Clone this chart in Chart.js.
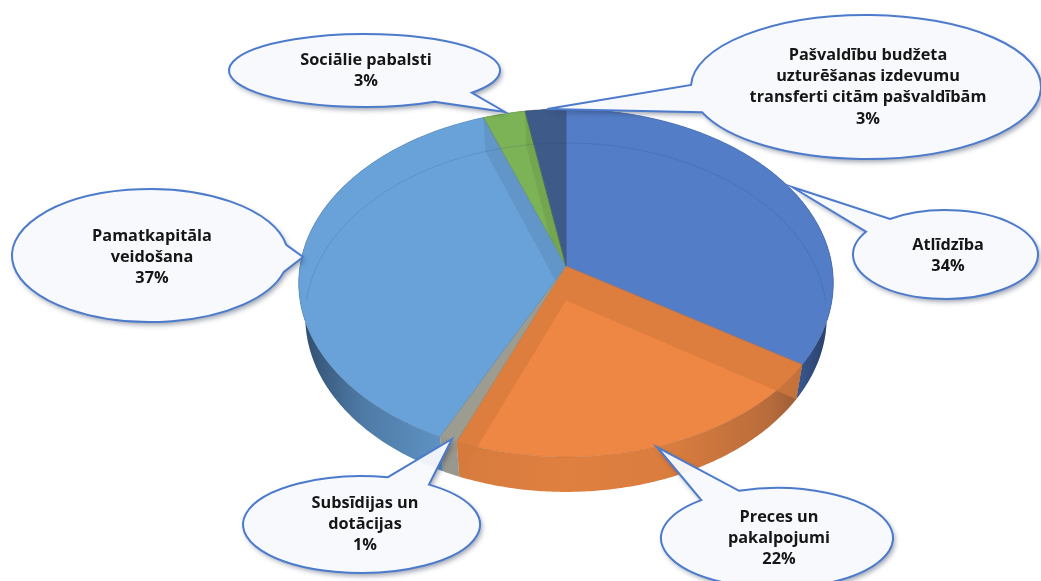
<!DOCTYPE html>
<html><head><meta charset="utf-8">
<style>html,body{margin:0;padding:0;background:#fff;overflow:hidden}canvas{display:block;filter:blur(.45px)}</style>
<script src="https://cdn.jsdelivr.net/npm/chart.js@4/dist/chart.umd.min.js"></script>
</head><body>
<canvas id="c" width="1041" height="581"></canvas>
<script>
const categories = ['Atlīdzība','Preces un pakalpojumi','Subsīdijas un dotācijas','Pamatkapitāla veidošana','Sociālie pabalsti','Pašvaldību budžeta uzturēšanas izdevumu transferti citām pašvaldībām'];
const values = [34.1, 22, 1, 37.4, 2.8, 2.7];
const percentLabels = ['34%','22%','1%','37%','3%','3%'];
const categoryLines = [['Atlīdzība'],['Preces un','pakalpojumi'],['Subsīdijas un','dotācijas'],['Pamatkapitāla','veidošana'],['Sociālie pabalsti'],['Pašvaldību budžeta','uzturēšanas izdevumu','transferti citām pašvaldībām']];
const sliceColors = ['#537dc7','#ee8743','#a9a89c','#69a2d8','#7cb356','#3e5a88'];

// callout balloons: ellipse centre/radii, two tail base points, tail tip, text anchor
const callouts = [
 {cx:945.5,cy:254.5,rx:92.5,ry:44.5,a:[890,219],b:[867,232],tip:[792,187],tx:948,ty:245},
 {cx:777,cy:538,rx:116,ry:50,a:[740,492],b:[703,501],tip:[657,447],tx:779,ty:517},
 {cx:361.5,cy:524.5,rx:118.5,ry:48.5,a:[388,477],b:[430,484],tip:[452,439],tx:365,ty:503},
 {cx:150,cy:255.5,rx:138,ry:66.5,a:[285,245],b:[285,272],tip:[303,257],tx:152,ty:236},
 {cx:364.5,cy:70.5,rx:135.5,ry:36.5,a:[435,102],b:[473,93],tip:[505,112],tx:366,ty:60},
 {cx:866,cy:87,rx:175,ry:72,a:[692,85],b:[703,112],tip:[547,109],tx:868,ty:55}
];
const LINE_H = 21.4;
const PERSP = -0.0977, SQUASH = 0.6477, BX = 0.975, BY = 1.003, DEPTH = 34.4;

function project(el, angle){
  const x = Math.cos(angle), y = Math.sin(angle), d = 1 + PERSP*y;
  return [el.x + el.outerRadius*x/d, el.y + el.outerRadius*SQUASH*y/d];
}
function lower(el, p){ return [el.x + BX*(p[0]-el.x), el.y + BY*(p[1]-el.y) + DEPTH]; }
function arcPts(el, a0, a1){
  const n = Math.max(2, Math.ceil(Math.abs(a1-a0)/0.01)), out = [];
  for(let i=0;i<=n;i++) out.push(project(el, a0+(a1-a0)*i/n));
  return out;
}
function poly(ctx, pts, move=true){
  pts.forEach((p,i)=> (i===0&&move) ? ctx.moveTo(p[0],p[1]) : ctx.lineTo(p[0],p[1]));
}
function darken(hex,f){
  const n=parseInt(hex.slice(1),16);
  return 'rgb('+[(n>>16)&255,(n>>8)&255,n&255].map(v=>Math.round(v*f)).join(',')+')';
}
function topPath(ctx, el){
  ctx.beginPath(); ctx.moveTo(el.x,el.y); poly(ctx, arcPts(el, el.startAngle, el.endAngle), false); ctx.closePath();
}
function wallPath(ctx, el){
  const top = arcPts(el, el.startAngle, el.endAngle), bot = top.map(p=>lower(el,p)).reverse();
  ctx.beginPath(); poly(ctx, top); poly(ctx, bot, false); ctx.closePath();
}

const pie3d = {
  id:'pie3d',
  beforeDatasetDraw(){ return false; },
  afterDatasetsDraw(chart){
    const ctx = chart.ctx, arcs = chart.getDatasetMeta(0).data;
    const P0 = arcs[0];
    ctx.save();
    // outer walls
    arcs.forEach(el=>{
      wallPath(ctx, el);
      ctx.fillStyle = darken(el.options.backgroundColor,0.96); ctx.fill();
      const g = ctx.createLinearGradient(298,0,833,0);
      [[0,.6],[.05,.45],[.12,.25],[.27,.07],[.5,.02],[.7,.05],[.88,.2],[.94,.35],[1,.6]].forEach(s=>g.addColorStop(s[0],'rgba(10,20,40,'+s[1]+')'));
      ctx.fillStyle = g; ctx.fill();
    });
    // top faces
    arcs.forEach(el=>{ topPath(ctx, el); ctx.fillStyle = el.options.backgroundColor; ctx.fill(); });
    // radial inner faces seen through the translucent top, and through the wall of front slices
    arcs.forEach(el=>{
      const front = Math.sin(el.startAngle) > 0 && Math.sin(el.endAngle) > 0;
      (front ? [topPath, wallPath] : [topPath]).forEach(clipTo=>{
        ctx.save();
        clipTo(ctx, el); ctx.clip();
        [el.startAngle, el.endAngle].forEach(a=>{
          const r = project(el,a), l = lower(el,r);
          ctx.beginPath(); ctx.moveTo(el.x,el.y); ctx.lineTo(r[0],r[1]); ctx.lineTo(l[0],l[1]); ctx.lineTo(el.x,el.y+DEPTH); ctx.closePath();
          ctx.fillStyle = darken(el.options.backgroundColor,0.9); ctx.globalAlpha = .7; ctx.fill();
        });
        ctx.restore();
      });
    });
    // rim strokes
    arcs.forEach(el=>{
      topPath(ctx, el);
      ctx.strokeStyle = darken(el.options.backgroundColor,0.85); ctx.globalAlpha=.55; ctx.lineWidth = 1; ctx.stroke(); ctx.globalAlpha=1;
    });
    // faint far rim seen through the top
    ctx.beginPath(); poly(ctx, arcPts(P0, Math.PI, Math.PI*2).map(p=>lower(P0,p)));
    ctx.strokeStyle='rgba(30,60,120,.16)'; ctx.lineWidth=1; ctx.stroke();
    ctx.restore();
  },
  afterDraw(chart){
    const ctx = chart.ctx;
    callouts.forEach((c,i)=>{
      const ang = p => Math.atan2((p[1]-c.cy)/c.ry,(p[0]-c.cx)/c.rx);
      const a0 = ang(c.a), a1 = ang(c.b);
      let d = a1-a0; while(d<0) d += Math.PI*2;
      const ccw = d < Math.PI;               // always travel the long way round
      const shape = ()=>{
        const s = new Path2D();
        s.ellipse(c.cx,c.cy,c.rx,c.ry,0,a0,a1,ccw);
        s.lineTo(c.tip[0],c.tip[1]);
        s.closePath();
        return s;
      };
      // shadow only outside the balloon
      ctx.save();
      const outside = new Path2D(); outside.rect(0,0,1041,581); outside.addPath(shape());
      ctx.clip(outside,'evenodd');
      ctx.shadowColor='rgba(40,50,80,.45)'; ctx.shadowBlur=5; ctx.shadowOffsetX=2; ctx.shadowOffsetY=3;
      ctx.fillStyle='#fff'; ctx.fill(shape());
      ctx.restore();
      ctx.save();
      ctx.fillStyle='rgba(247,249,252,.95)'; ctx.fill(shape());
      ctx.strokeStyle='#4d7bcb'; ctx.lineWidth=2; ctx.lineJoin='miter'; ctx.stroke(shape());
      ctx.restore();
      ctx.save();
      ctx.fillStyle='#161616'; ctx.textAlign='center'; ctx.textBaseline='middle';
      ctx.font='700 16.3px "Open Sans", sans-serif';
      categoryLines[i].concat(percentLabels[i]).forEach((t,k)=>ctx.fillText(t,c.tx,c.ty+k*LINE_H));
      ctx.restore();
    });
  }
};

new Chart(document.getElementById('c'),{
  type:'pie',
  data:{labels:categories,datasets:[{data:values,backgroundColor:sliceColors,borderWidth:0}]},
  options:{
    responsive:false,animation:false,
    layout:{padding:{left:300,right:209,top:0,bottom:49}},
    plugins:{legend:{display:false},tooltip:{enabled:false},title:{display:false}}
  },
  plugins:[pie3d]
});
</script>
</body></html>
